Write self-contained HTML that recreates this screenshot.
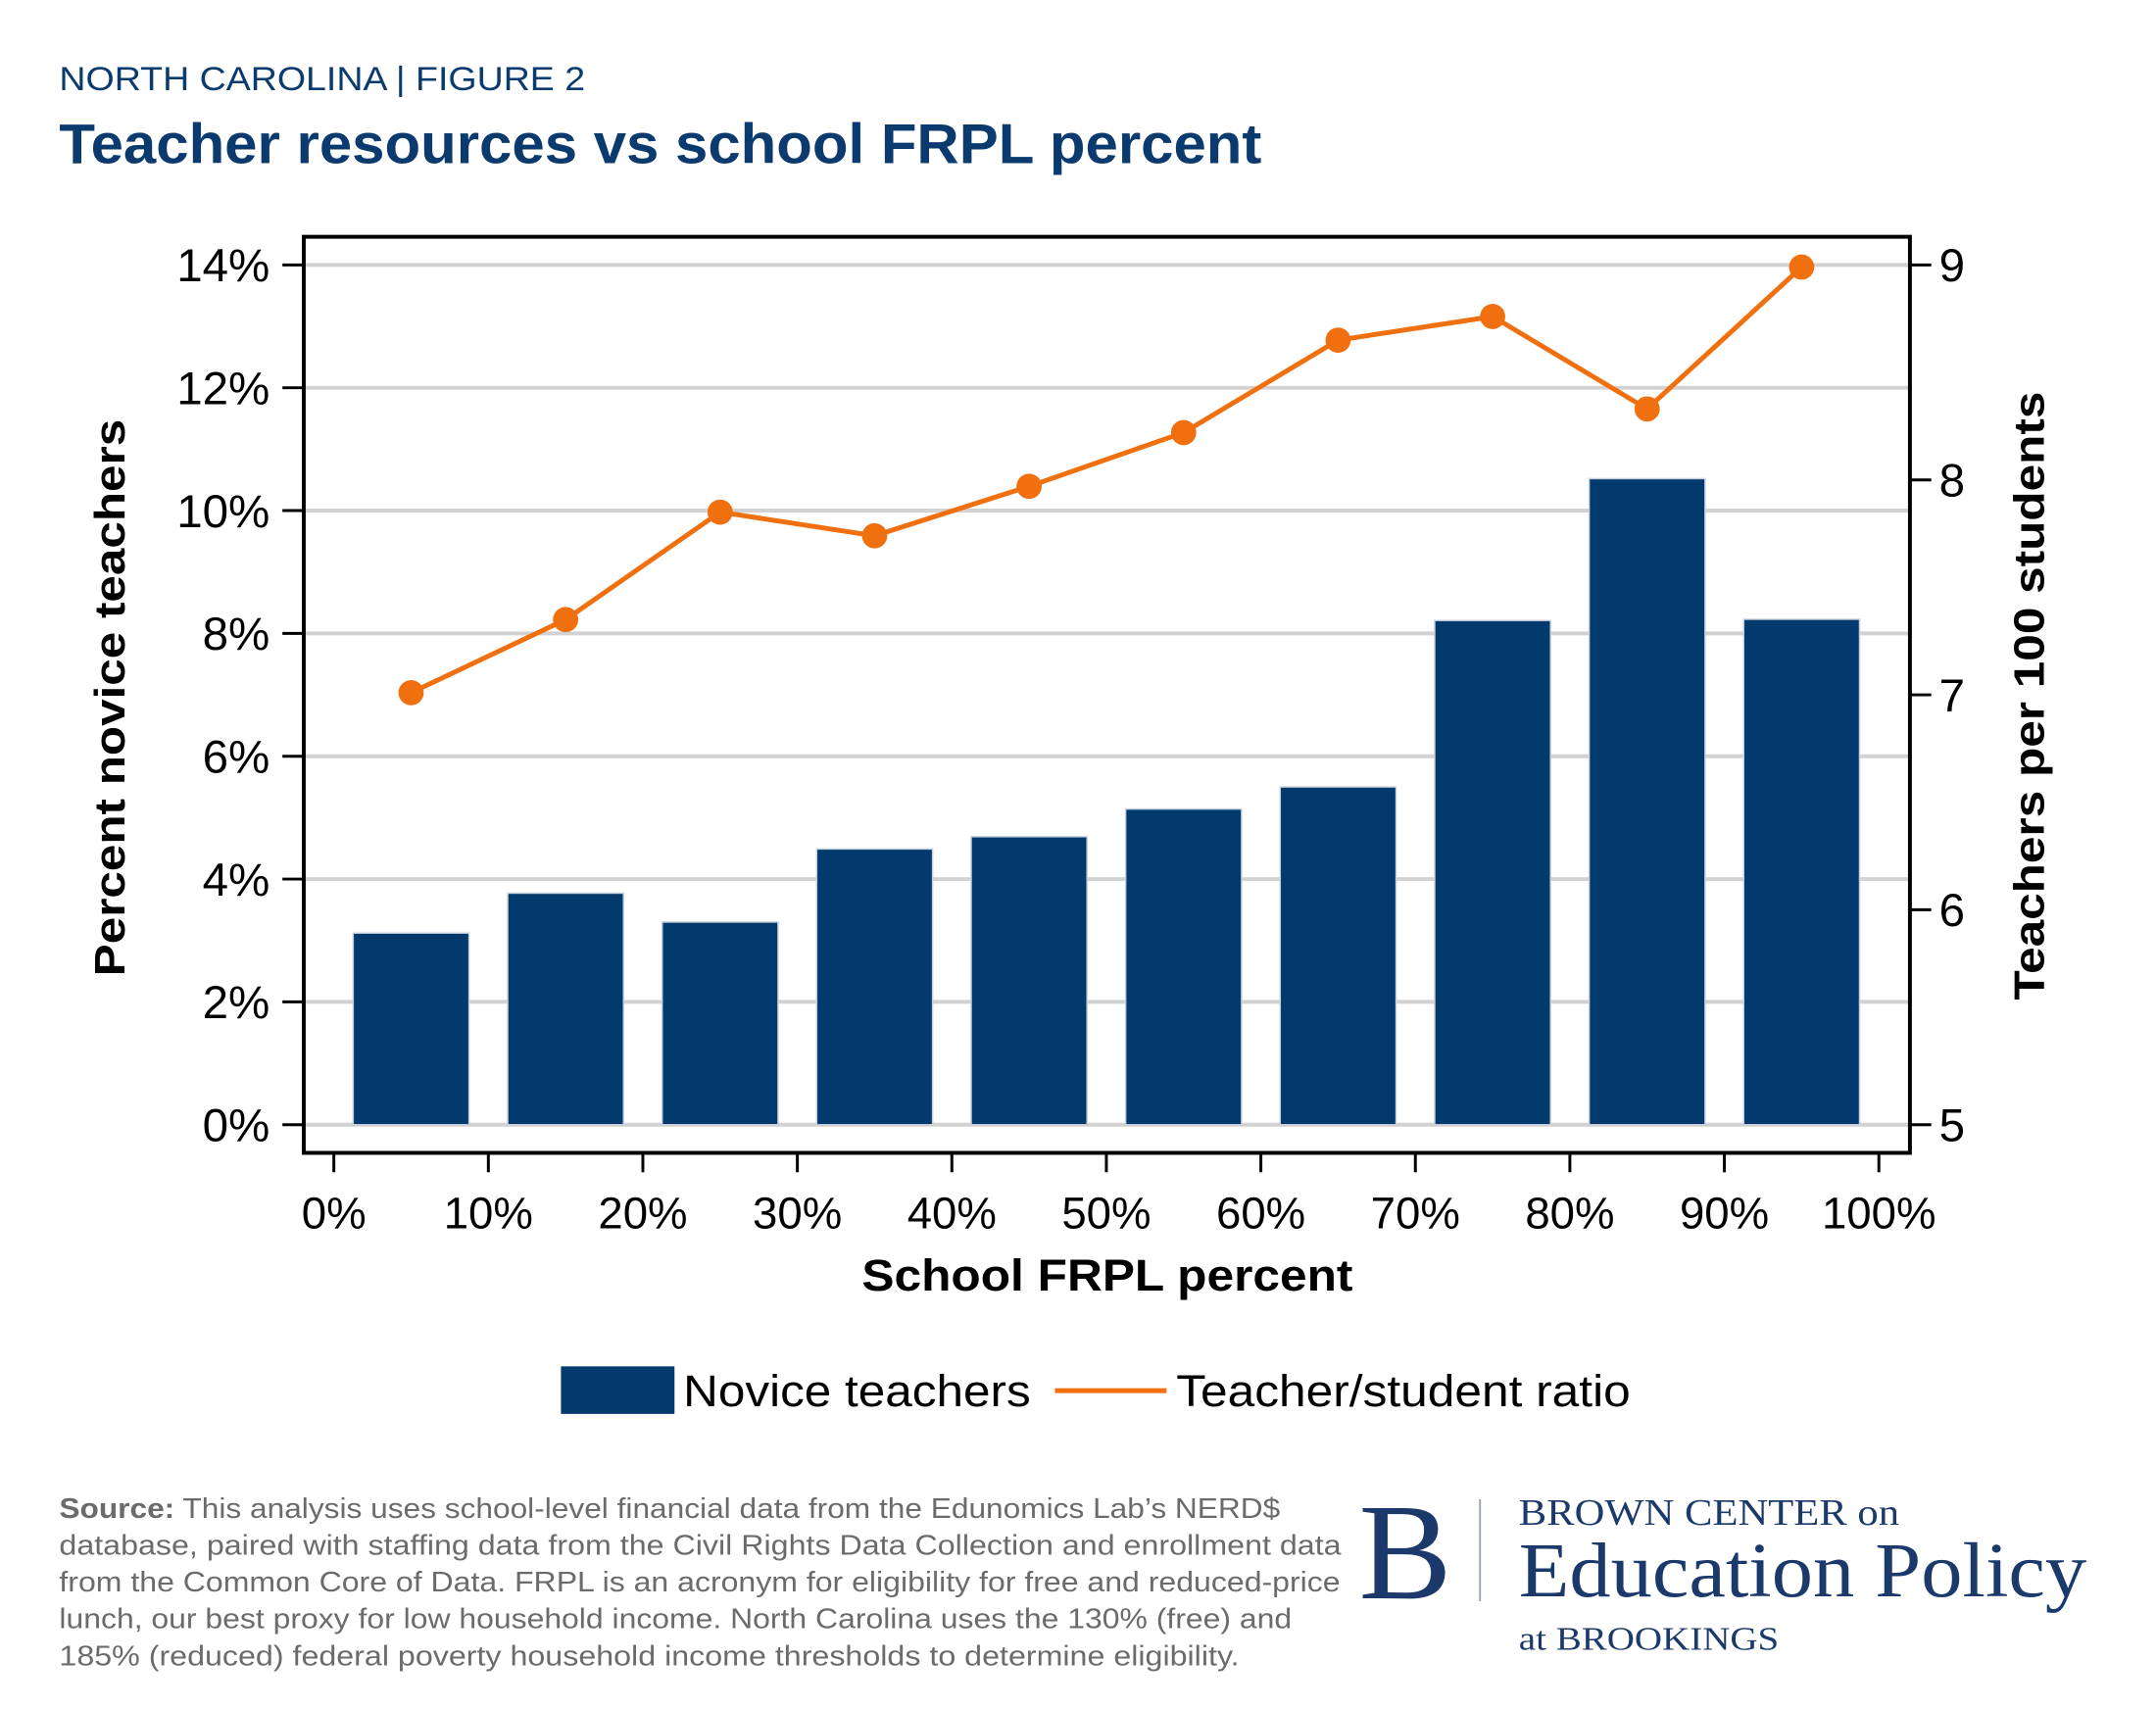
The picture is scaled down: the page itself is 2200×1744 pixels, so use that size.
<!DOCTYPE html>
<html><head><meta charset="utf-8"><style>
html,body{margin:0;padding:0;background:#fff}
svg{display:block}
text{font-family:"Liberation Sans",sans-serif}
</style></head><body>
<svg width="2200" height="1744" viewBox="0 0 2200 1744" xmlns="http://www.w3.org/2000/svg">
<rect width="2200" height="1744" fill="#fff"/>
<g transform="scale(0.9903)">
<text x="61" y="93" font-size="35" fill="#0b3b6e" textLength="542" lengthAdjust="spacingAndGlyphs">NORTH CAROLINA |  FIGURE 2</text>
<text x="61" y="168" font-size="58" font-weight="bold" fill="#0b3b6e" textLength="1239" lengthAdjust="spacingAndGlyphs">Teacher resources vs school FRPL percent</text>
<g id="plot"></g>
<text transform="translate(128,719) rotate(-90)" text-anchor="middle" font-size="44" font-weight="bold" fill="#000" textLength="574" lengthAdjust="spacingAndGlyphs">Percent novice teachers</text>
<text transform="translate(2106,717) rotate(-90)" text-anchor="middle" font-size="44" font-weight="bold" fill="#000" textLength="627" lengthAdjust="spacingAndGlyphs">Teachers per 100 students</text>
<text x="1141" y="1330" text-anchor="middle" font-size="46" font-weight="bold" fill="#000" textLength="506" lengthAdjust="spacingAndGlyphs">School FRPL percent</text>
<g>
<rect x="578" y="1408" width="117" height="49" fill="#023a6e"/>
<text x="704" y="1449" font-size="46" fill="#000" textLength="358" lengthAdjust="spacingAndGlyphs">Novice teachers</text>
<line x1="1087" y1="1433" x2="1202" y2="1433" stroke="#f07010" stroke-width="5"/>
<text x="1212" y="1449" font-size="46" fill="#000" textLength="468" lengthAdjust="spacingAndGlyphs">Teacher/student ratio</text>
</g>
<g font-size="29" fill="#6b6b6b">
<text x="61" y="1564" textLength="1258" lengthAdjust="spacingAndGlyphs"><tspan font-weight="bold">Source:</tspan> This analysis uses school-level financial data from the Edunomics Lab’s NERD$</text>
<text x="61" y="1602" textLength="1321" lengthAdjust="spacingAndGlyphs">database, paired with staffing data from the Civil Rights Data Collection and enrollment data</text>
<text x="61" y="1640" textLength="1320" lengthAdjust="spacingAndGlyphs">from the Common Core of Data. FRPL is an acronym for eligibility for free and reduced-price</text>
<text x="61" y="1678" textLength="1270" lengthAdjust="spacingAndGlyphs">lunch, our best proxy for low household income. North Carolina uses the 130% (free) and</text>
<text x="61" y="1716" textLength="1216" lengthAdjust="spacingAndGlyphs">185% (reduced) federal poverty household income thresholds to determine eligibility.</text>
</g>
<g fill="#1b3a6b">
<text x="1400" y="1647" font-size="142" style="font-family:'Liberation Serif',serif" textLength="96" lengthAdjust="spacingAndGlyphs">B</text>
<line x1="1525" y1="1545" x2="1525" y2="1650" stroke="#9aa6bd" stroke-width="2"/>
<text x="1565" y="1571" font-size="38" style="font-family:'Liberation Serif',serif" textLength="392" lengthAdjust="spacingAndGlyphs">BROWN CENTER on</text>
<text x="1565" y="1645" font-size="80" style="font-family:'Liberation Serif',serif" textLength="585" lengthAdjust="spacingAndGlyphs">Education Policy</text>
<text x="1565" y="1700" font-size="34" style="font-family:'Liberation Serif',serif" textLength="268" lengthAdjust="spacingAndGlyphs">at BROOKINGS</text>
</g>
</g>
</svg>
<script>
const categories = ["0-10%","10-20%","20-30%","30-40%","40-50%","50-60%","60-70%","70-80%","80-90%","90-100%"];
const binCenters = [5,15,25,35,45,55,65,75,85,95];
const noviceValues = [3.12,3.77,3.30,4.49,4.69,5.14,5.50,8.21,10.52,8.23];
const ratioValues = [7.01,7.35,7.85,7.74,7.97,8.22,8.65,8.76,8.33,8.99];
const leftTicks = [0,2,4,6,8,10,12,14];
const leftTickLabels = ["0%","2%","4%","6%","8%","10%","12%","14%"];
const rightTicks = [5,6,7,8,9];
const rightTickLabels = ["5","6","7","8","9"];
const xTicks = [0,10,20,30,40,50,60,70,80,90,100];
const xTickLabels = ["0%","10%","20%","30%","40%","50%","60%","70%","80%","90%","100%"];

const NS="http://www.w3.org/2000/svg";
const g=document.getElementById('plot');
const L=313,R=1968,T=244,B=1188;
const xS=v=>344+v*(1936-344)/100;
const yL=v=>1159-v*(1159-273)/14;
const yR=v=>1159-(v-5)*(1159-273)/4;
function mk(tag,attrs){const e=document.createElementNS(NS,tag);for(const k in attrs)e.setAttribute(k,attrs[k]);g.appendChild(e);return e;}

leftTicks.forEach((t,i)=>{
  const gl=mk('line',{x1:L,x2:R,y1:yL(t),y2:yL(t),stroke:'#d2d2d2','stroke-width':4});
  
  
  const tk=mk('line',{x1:L-22,x2:L,y1:yL(t),y2:yL(t),stroke:'#000','stroke-width':3});
  
  
  const tx=mk('text',{x:278,y:yL(t)+17,'text-anchor':'end','font-size':48,fill:'#000'});
  tx.textContent=leftTickLabels[i];
  
  
});
rightTicks.forEach((t,i)=>{
  const tk=mk('line',{x1:R,x2:R+22,y1:yR(t),y2:yR(t),stroke:'#000','stroke-width':3});
  
  
  const tx=mk('text',{x:1998,y:yR(t)+17,'font-size':48,fill:'#000'});
  tx.textContent=rightTickLabels[i];
  
  
});
const bw=(xS(10)-xS(0))*0.75;
noviceValues.forEach((v,i)=>{
  const r=mk('rect',{x:xS(binCenters[i])-bw/2,y:yL(v),width:bw,height:yL(0)-yL(v),fill:'#023a6e',stroke:'#c8d0da','stroke-width':1.5});
  
  
});
const frame=mk('rect',{x:L,y:T,width:R-L,height:B-T,fill:'none',stroke:'#000','stroke-width':4});


xTicks.forEach((t,i)=>{
  const tk=mk('line',{x1:xS(t),x2:xS(t),y1:B,y2:B+20,stroke:'#000','stroke-width':3});
  
  
  const tx=mk('text',{x:xS(t),y:1266,'text-anchor':'middle','font-size':46,fill:'#000'});
  tx.textContent=xTickLabels[i];
  
  
});
const pts=ratioValues.map((v,i)=>xS(binCenters[i])+','+yR(v)).join(' ');
const pl=mk('polyline',{points:pts,fill:'none',stroke:'#f07010','stroke-width':5,'stroke-linejoin':'round'});


ratioValues.forEach((v,i)=>{
  const c=mk('circle',{cx:xS(binCenters[i]),cy:yR(v),r:13,fill:'#f07010'});
  
  
});
</script>
</body></html>
